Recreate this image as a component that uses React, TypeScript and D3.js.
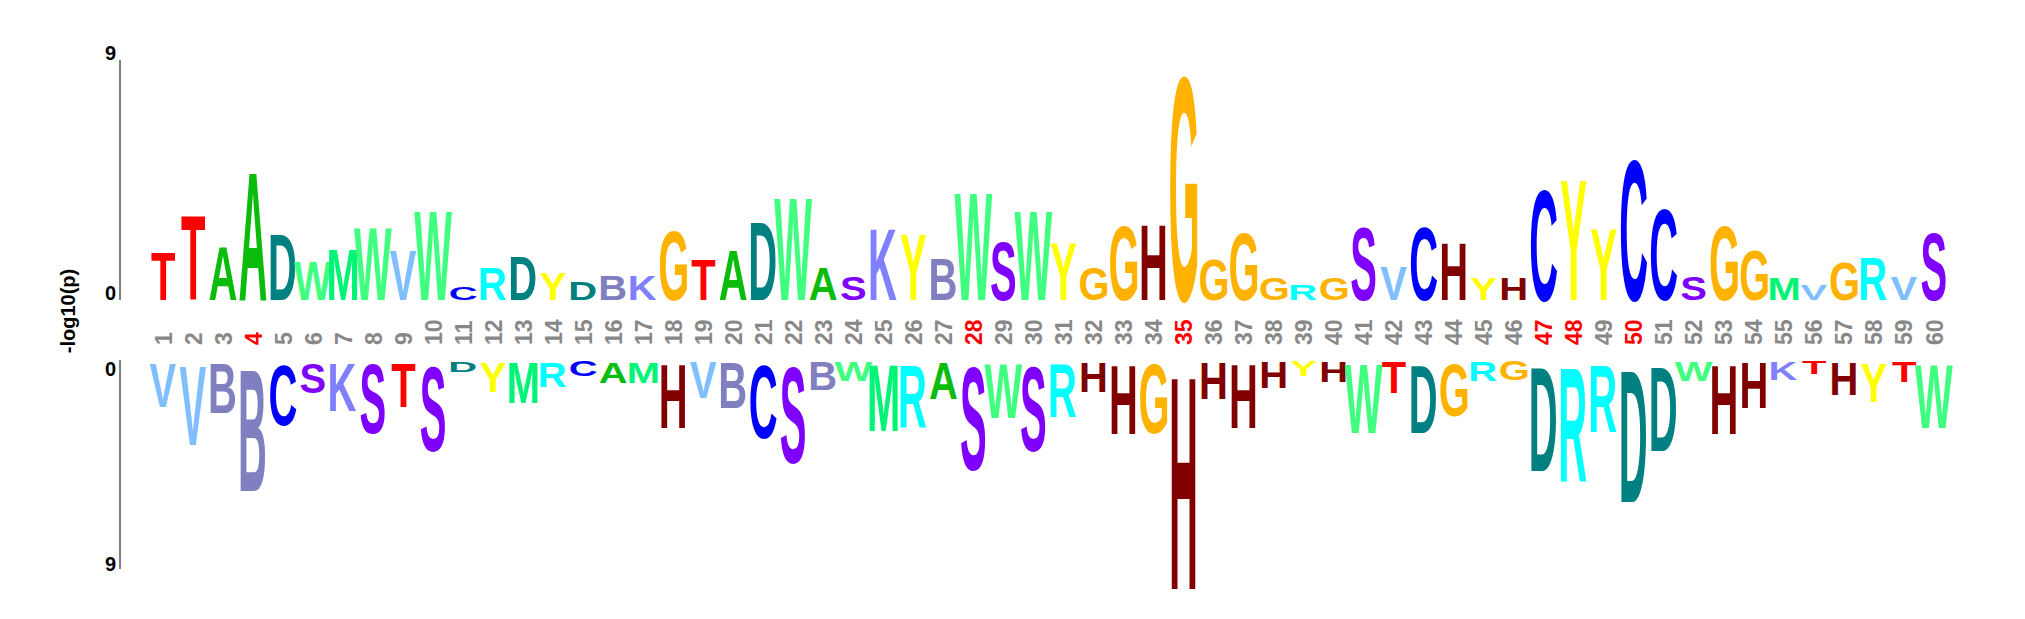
import React, { useMemo } from "react";
import * as d3 from "d3";

// Positions 1..60
const positions: number[] = d3.range(1, 61);

// Enriched (top) letters and their -log10(p) values
const topLetters: string[] = [
  "T","T","A","A","D","W","M","W","V","W",
  "C","R","D","Y","D","B","K","G","T","A",
  "D","W","A","S","K","Y","B","W","S","W",
  "Y","G","G","H","G","G","G","G","R","G",
  "S","V","C","H","Y","H","C","Y","Y","C",
  "C","S","G","G","M","V","G","R","V","S",
];
const topValues: number[] = [
  1.92, 3.42, 2.14, 5.16, 2.64, 1.54, 2.06, 2.94, 1.97, 3.62,
  0.52, 1.30, 1.78, 1.07, 0.74, 0.99, 0.97, 2.76, 1.61, 1.98,
  3.15, 4.13, 1.32, 0.92, 2.86, 2.68, 1.65, 4.36, 2.35, 3.62,
  2.28, 1.31, 2.99, 3.02, 9.02, 1.60, 2.74, 0.89, 0.64, 0.87,
  2.94, 1.38, 2.94, 2.28, 0.87, 0.87, 4.45, 4.86, 2.86, 5.64,
  3.67, 0.92, 2.99, 1.98, 0.87, 0.63, 1.49, 1.72, 0.94, 2.73,
];

// Depleted (bottom) letters and their -log10(p) values
const bottomLetters: string[] = [
  "V","V","B","B","C","S","K","S","T","S",
  "D","Y","M","R","C","A","M","H","V","B",
  "C","S","B","W","M","R","A","S","W","S",
  "R","H","H","G","H","H","H","H","Y","H",
  "W","T","D","G","R","G","D","R","R","D",
  "D","W","H","H","K","T","H","Y","T","W",
];
const bottomValues: number[] = [
  2.01, 3.66, 2.30, 5.63, 2.78, 1.40, 2.19, 3.15, 2.04, 3.92,
  0.50, 1.37, 1.87, 1.15, 0.69, 0.98, 0.98, 2.93, 1.65, 2.08,
  3.34, 4.44, 1.29, 0.91, 3.06, 2.87, 1.69, 4.74, 2.51, 3.92,
  2.44, 1.37, 3.19, 3.15, 9.86, 1.68, 2.92, 1.22, 0.69, 0.93,
  3.15, 1.44, 3.13, 2.39, 0.89, 0.88, 4.78, 5.26, 3.09, 6.11,
  3.91, 0.91, 3.19, 2.08, 0.86, 0.60, 1.51, 1.80, 0.96, 2.94,
];

// Highlighted (fixed) positions shown with red tick labels
const highlighted: number[] = [4, 28, 35, 47, 48, 50];

const yTicks: number[] = [0, 9];
const yTitle = "-log10(p)";

const letterColors: Record<string, string> = {
  A: "#0cbc0c",
  C: "#0000ff",
  G: "#ffb300",
  T: "#ff0000",
  D: "#008080",
  W: "#40ff80",
  M: "#00f577",
  V: "#80bfff",
  R: "#00ffff",
  Y: "#ffff00",
  B: "#8080c0",
  K: "#8080ff",
  S: "#8000ff",
  H: "#800000",
};

const W = 2025;
const H = 619;
const FONT = "'Liberation Sans', Arial, Helvetica, sans-serif";
const LETTER_SIZE = 40;
const GLYPH_FILL = 0.932;

type Metric = { mid: number; cap: number };

function measure(letters: string[]): Record<string, Metric> {
  const out: Record<string, Metric> = {};
  const canvas = document.createElement("canvas");
  const ctx = canvas.getContext("2d");
  let cap = LETTER_SIZE * 0.729;
  if (ctx) {
    ctx.font = `bold ${LETTER_SIZE}px ${FONT}`;
    const hm = ctx.measureText("H");
    if (hm.actualBoundingBoxAscent > 0) cap = hm.actualBoundingBoxAscent;
  }
  for (const l of letters) {
    let mid = 0;
    if (ctx) {
      const m = ctx.measureText(l);
      mid = (m.actualBoundingBoxRight - m.actualBoundingBoxLeft) / 2;
    }
    out[l] = { mid, cap };
  }
  return out;
}

export default function App() {
  const x = d3.scaleLinear().domain([1, 60]).range([163, 1934]);
  const yTop = d3.scaleLinear().domain([0, 9]).range([300, 60]);
  const yBot = d3.scaleLinear().domain([0, 9]).range([360, 569]);

  const metrics = useMemo(
    () => measure(Array.from(new Set([...topLetters, ...bottomLetters]))),
    []
  );

  const glyph = (letter: string, cx: number, baseY: number, boxH: number, key: string) => {
    const m = metrics[letter];
    const sy = (boxH * GLYPH_FILL) / m.cap;
    return (
      <text
        key={key}
        transform={`translate(${cx - m.mid},${baseY}) scale(1,${sy})`}
        fontFamily={FONT}
        fontWeight="bold"
        fontSize={LETTER_SIZE}
        fill={letterColors[letter]}
      >
        {letter}
      </text>
    );
  };

  const axisX = 120;

  return (
    <svg
      width={W}
      height={H}
      style={{ position: "absolute", left: 0, top: 0, background: "#fff" }}
    >
      <rect x={0} y={0} width={W} height={H} fill="#fff" />

      {/* top letters */}
      {positions.map((p, i) => {
        const h = yTop(0) - yTop(topValues[i]);
        return glyph(topLetters[i], x(p), yTop(0), h, `t${p}`);
      })}

      {/* bottom letters */}
      {positions.map((p, i) => {
        const h = yBot(bottomValues[i]) - yBot(0);
        return glyph(bottomLetters[i], x(p), yBot(0) + h, h, `b${p}`);
      })}

      {/* position labels */}
      {positions.map((p) => (
        <text
          key={`l${p}`}
          transform={`translate(${x(p) + 8.5},345) rotate(-90)`}
          fontFamily={FONT}
          fontWeight="bold"
          fontSize={23}
          fill={highlighted.includes(p) ? "#ff0000" : "#888888"}
          textAnchor="start"
        >
          {p}
        </text>
      ))}

      {/* y axes */}
      <line x1={axisX} x2={axisX} y1={yTop(9)} y2={yTop(0)} stroke="#808080" strokeWidth={2} />
      <line x1={axisX} x2={axisX} y1={yBot(0)} y2={yBot(9)} stroke="#808080" strokeWidth={2} />
      {yTicks.map((t) => (
        <text
          key={`yt${t}`}
          x={axisX - 4}
          y={yTop(t)}
          textAnchor="end"
          fontFamily={FONT}
          fontWeight="bold"
          fontSize={20}
          fill="#000"
        >
          {t}
        </text>
      ))}
      {yTicks.map((t) => (
        <text
          key={`yb${t}`}
          x={axisX - 4}
          y={t === 0 ? yBot(t) + 16 : yBot(t) + 2}
          textAnchor="end"
          fontFamily={FONT}
          fontWeight="bold"
          fontSize={20}
          fill="#000"
        >
          {t}
        </text>
      ))}
      <text
        transform="translate(75,311) rotate(-90)"
        textAnchor="middle"
        fontFamily={FONT}
        fontWeight="bold"
        fontSize={20}
        fill="#000"
      >
        {yTitle}
      </text>
    </svg>
  );
}
